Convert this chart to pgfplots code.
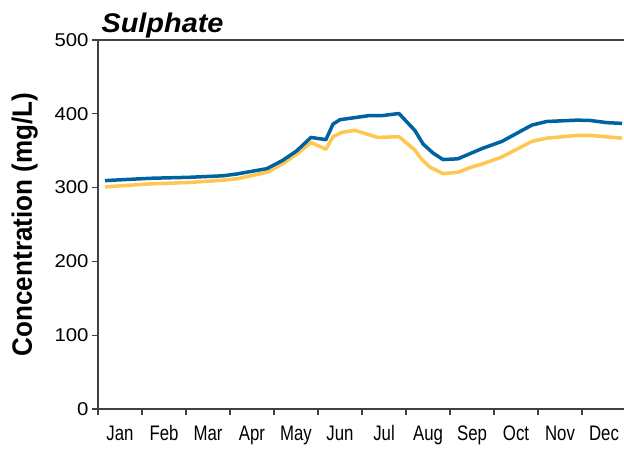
\documentclass[border=0pt]{standalone}
\usepackage{pgfplots}
\pgfplotsset{compat=1.18}
\usepackage{fontspec}
\setmainfont{Liberation Sans}
\newfontfamily\monthfont[FakeStretch=0.8]{Liberation Sans}
\newfontfamily\yfont[FakeStretch=1.1]{Liberation Sans}
\newfontfamily\labfont[FakeStretch=0.93]{Liberation Sans}
\newfontfamily\titfont[FakeStretch=1.07]{Liberation Sans}
\definecolor{sblue}{RGB}{0,99,161}
\definecolor{syellow}{RGB}{255,198,80}
\definecolor{axgray}{RGB}{64,64,64}
\begin{document}
\begin{tikzpicture}
\begin{axis}[
  at={(0,0)}, anchor=south west,
  scale only axis,
  width=528bp, height=369bp,
  xmin=0, xmax=12, ymin=0, ymax=500,
  axis x line*=box, axis y line*=left,
  xtick pos=bottom, ytick pos=left,
  axis line style={axgray, line width=1.2bp},
  tick style={axgray, line width=1.2bp},
  tick align=outside,
  major tick length=6bp,
  xtick={0,...,12},
  xticklabels={Jan,Feb,Mar,Apr,May,Jun,Jul,Aug,Sep,Oct,Nov,Dec,{}},
  xticklabel style={font=\monthfont\fontsize{21bp}{24bp}\selectfont, anchor=base, xshift=22bp, yshift=-25bp},
  ytick={0,100,...,500},
  yticklabel style={font=\yfont\fontsize{18.5bp}{22bp}\selectfont},
  /pgf/number format/assume math mode=true,
  every axis y label/.style={at={(axis description cs:-0.125,0.5)}, anchor=base, rotate=90, font=\labfont\bfseries\fontsize{28bp}{32bp}\selectfont},
  ylabel={Concentration (mg/L)},
  every axis title/.style={at={(axis description cs:0,1)}, anchor=base west, yshift=8bp, font=\titfont\bfseries\itshape\fontsize{27bp}{30bp}\selectfont},
  title={Sulphate},
]
\addplot[syellow, line width=3.5bp, line join=round] coordinates {
(0.16,301) (1.18,305) (2.09,307) (2.84,310) (3.16,312) (3.84,320.7)
(4.20,332.4) (4.52,345.5) (4.84,361) (5.18,352) (5.34,369) (5.55,375)
(5.84,377.5) (6.36,368) (6.84,369) (7.20,351) (7.36,338) (7.55,327.5)
(7.84,319) (8.18,320.7) (8.45,327) (8.73,332) (9.18,341.5) (9.86,362.6)
(10.20,367) (10.89,370.7) (11.18,370.7) (11.91,367)
};
\addplot[sblue, line width=3.5bp, line join=round] coordinates {
(0.16,309.5) (1.18,312.6) (2.09,314) (2.84,316) (3.16,318.5) (3.84,325.7)
(4.20,337) (4.52,350) (4.84,368) (5.18,365) (5.34,386) (5.50,392)
(6.18,397.7) (6.48,397.7) (6.84,400.4) (7.20,377.5) (7.39,359) (7.61,347)
(7.84,338) (8.18,339) (8.73,353) (9.18,362.6) (9.86,384.7) (10.20,389.6)
(10.89,391.4) (11.18,391) (11.57,388) (11.91,387)
};
\end{axis}
\pgfresetboundingbox
\path (-98bp,-40bp) rectangle (526bp,409bp);
\end{tikzpicture}
\end{document}
